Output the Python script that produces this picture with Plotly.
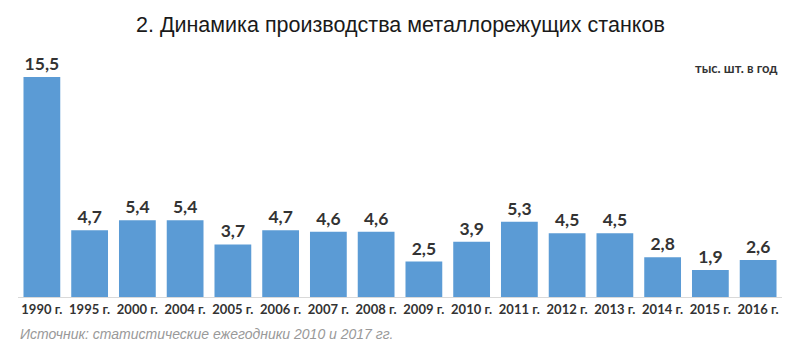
import plotly.graph_objects as go

years = ["1990 г.", "1995 г.", "2000 г.", "2004 г.", "2005 г.", "2006 г.", "2007 г.", "2008 г.",
         "2009 г.", "2010 г.", "2011 г.", "2012 г.", "2013 г.", "2014 г.", "2015 г.", "2016 г."]
values = [15.5, 4.7, 5.4, 5.4, 3.7, 4.7, 4.6, 4.6, 2.5, 3.9, 5.3, 4.5, 4.5, 2.8, 1.9, 2.6]

title_text = "2. Динамика производства металлорежущих станков"
unit_text = "тыс. шт. в год"
source_text = "Источник: статистические ежегодники 2010 и 2017 гг."

W, H = 792, 350
ML, MR, MT, MB = 10, 18, 52, 61

fig = go.Figure(go.Bar(
    x=years, y=values,
    marker=dict(color="#5B9BD5", line=dict(width=0)),
    texttemplate="%{y:.1f}", textposition="outside",
    textfont=dict(family="Lato", size=17.5, color="#333333", weight="bold"),
    cliponaxis=False,
))

plot_h = H - MT - MB
def ypaper(px):
    # px: page y in the 800x358 view (page offset 8px)
    return (H - MB - (px - 8)) / plot_h

fig.update_layout(
    width=W, height=H,
    paper_bgcolor="white", plot_bgcolor="white",
    separators=", ",
    margin=dict(l=ML, r=MR, t=MT, b=MB),
    bargap=0.23,
    showlegend=False,
    xaxis=dict(showline=True, linecolor="#d9d9d9", linewidth=1, ticks="",
               tickfont=dict(family="Lato", size=13, color="#333333", weight="bold")),
    yaxis=dict(visible=False, range=[0, 16.7]),
    annotations=[
        dict(text=title_text, x=0.5, xref="paper", y=ypaper(25), yref="paper", yanchor="middle",
             showarrow=False, font=dict(family="Liberation Sans", size=21.5, color="#1a1a1a")),
        dict(text=unit_text, xref="paper", yref="paper", x=0.998, y=ypaper(68), yanchor="middle",
             showarrow=False, xanchor="right",
             font=dict(family="Lato", size=13, color="#333333", weight="bold")),
        dict(text=source_text, xref="paper", yref="paper", x=0.0, y=ypaper(334), yanchor="middle",
             showarrow=False, xanchor="left",
             font=dict(family="Liberation Sans", size=14, color="#999999", style="italic")),
    ],
)

fig.write_html("out.html")
